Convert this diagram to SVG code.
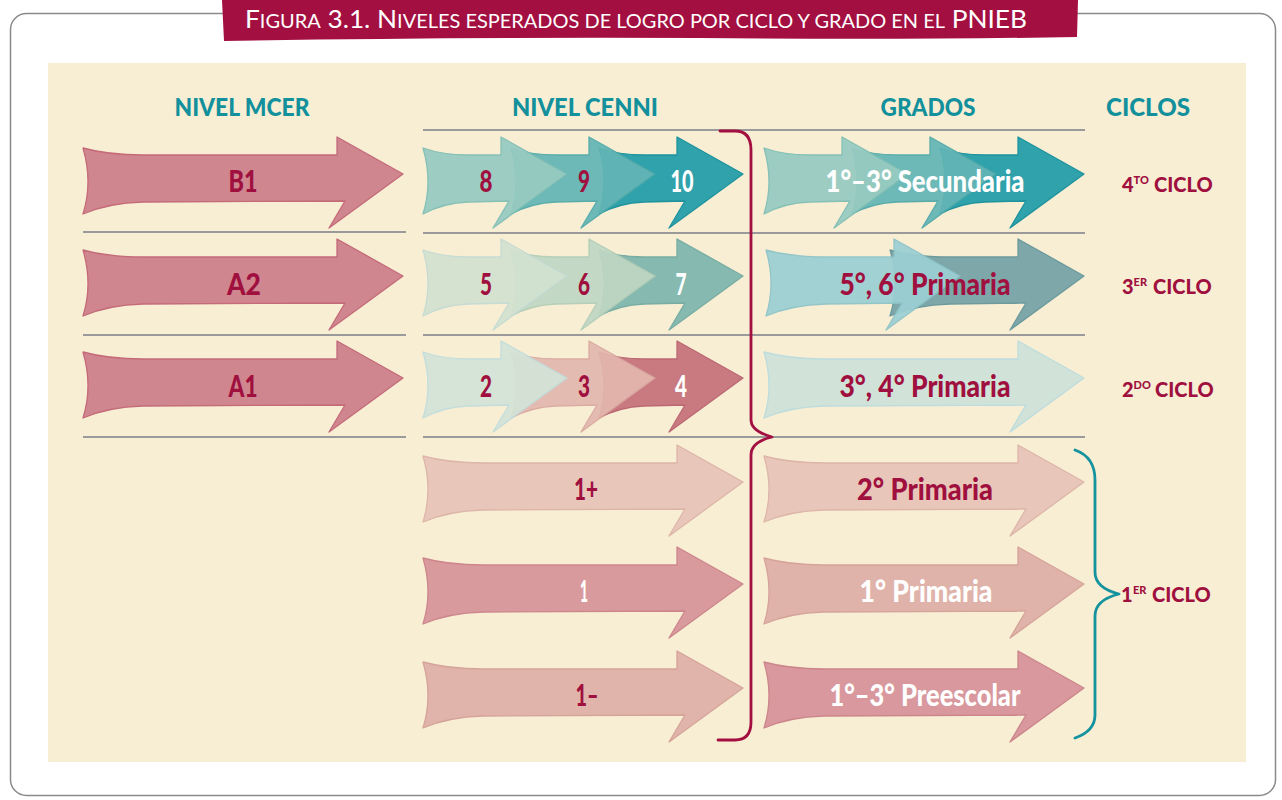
<svg xmlns="http://www.w3.org/2000/svg" width="1282" height="800" viewBox="0 0 1282 800">
<style>
.lbl{font-family:Lato,"Open Sans","Liberation Sans",sans-serif;font-weight:900;text-anchor:middle}
.big{font-size:30px}
.hdr{font-size:25px;fill:#12909C}
.cr{fill:#A0103F}
.wh{fill:#FFFFFF}
.cic{font-family:Lato,"Open Sans","Liberation Sans",sans-serif;font-weight:900;font-size:20px;fill:#A0103F}
.sup{font-size:11px}
.rule{stroke:#9A9A9A;stroke-width:2}
.arr{stroke-width:1.3;stroke-linejoin:round}
.brace{fill:none;stroke-width:2.8;stroke-linecap:round;stroke-linejoin:round}
</style>
<defs>
<path id="a320" d="M0,-34 Q25,-27 60,-27 L254,-27 L254,-45 L320,-8 L246,46 L262,19 L60,20 Q25,21 0,32 Q10,0 0,-34Z"/>
<path id="a144" d="M0,-34 Q20,-27 45,-27 L78,-27 L78,-45 L144,-8 L70,46 L86,19 L45,20 Q20,21 0,32 Q10,0 0,-34Z"/>
<path id="a194" d="M0,-34 Q25,-27 60,-27 L128,-27 L128,-45 L194,-8 L120,46 L136,19 L60,20 Q25,21 0,32 Q10,0 0,-34Z"/>
</defs>

<rect x="10.5" y="13.5" width="1265" height="782" rx="16" fill="#FFFFFF" stroke="#8A8A8A" stroke-width="1.5"/>
<g id="title">
<path d="M222,0 L1078,0 L1077,37 Q900,40 700,38 Q450,37 224,41 Z" fill="#A30F40"/>
<text x="245" y="28" textLength="782" lengthAdjust="spacingAndGlyphs" font-family="Lato, 'Open Sans', 'Liberation Sans', sans-serif" font-size="25" fill="#FFFFFF">F<tspan font-size="19">IGURA</tspan> 3.1. N<tspan font-size="19">IVELES ESPERADOS DE LOGRO POR CICLO Y GRADO EN EL</tspan> PNIEB</text>
</g>
<rect x="48" y="63" width="1198" height="699" fill="#F8EED4"/>

<g id="headers" class="lbl hdr">
<text x="242" y="116" textLength="135" lengthAdjust="spacingAndGlyphs">NIVEL MCER</text>
<text x="585" y="116" textLength="146" lengthAdjust="spacingAndGlyphs">NIVEL CENNI</text>
<text x="928" y="116" textLength="95" lengthAdjust="spacingAndGlyphs">GRADOS</text>
<text x="1148" y="116" textLength="84" lengthAdjust="spacingAndGlyphs">CICLOS</text>
</g>

<g id="rules" class="rule">
<line x1="423" y1="130" x2="1085" y2="130"/>
<line x1="83" y1="232" x2="406" y2="232"/>
<line x1="423" y1="233" x2="1085" y2="233"/>
<line x1="83" y1="335" x2="406" y2="335"/>
<line x1="423" y1="335" x2="1085" y2="335"/>
<line x1="83" y1="437" x2="406" y2="437"/>
<line x1="423" y1="437" x2="1085" y2="437"/>
</g>

<!-- NIVEL MCER -->
<g id="mcer-b1"><use href="#a320" x="83" y="182" fill="#D0868F" stroke="#C46A79" class="arr"/><text class="lbl big cr" x="243" y="192" textLength="29" lengthAdjust="spacingAndGlyphs">B1</text></g>
<g id="mcer-a2"><use href="#a320" x="83" y="284" fill="#D0868F" stroke="#C46A79" class="arr"/><text class="lbl big cr" x="244" y="295" textLength="34" lengthAdjust="spacingAndGlyphs">A2</text></g>
<g id="mcer-a1"><use href="#a320" x="83" y="386" fill="#D0868F" stroke="#C46A79" class="arr"/><text class="lbl big cr" x="243" y="397" textLength="29" lengthAdjust="spacingAndGlyphs">A1</text></g>

<!-- NIVEL CENNI row 1 -->
<g id="cenni-10"><use href="#a144" x="599" y="182" fill="#2FA2AC" stroke="#1E939D" class="arr"/><text class="lbl big wh" x="682" y="192" textLength="23" lengthAdjust="spacingAndGlyphs">10</text></g>
<g id="cenni-9"><use href="#a144" x="511" y="182" fill="#63B5B5" stroke="#4DA8A8" class="arr" opacity="0.93"/><text class="lbl big cr" x="584" y="192" textLength="12" lengthAdjust="spacingAndGlyphs">9</text></g>
<g id="cenni-8"><use href="#a144" x="423" y="182" fill="#97CBC1" stroke="#7DBDB4" class="arr" opacity="0.93"/><text class="lbl big cr" x="486" y="192" textLength="13" lengthAdjust="spacingAndGlyphs">8</text></g>
<!-- row 2 -->
<g id="cenni-7"><use href="#a144" x="599" y="284" fill="#86B9AF" stroke="#78ADA3" class="arr"/><text class="lbl big wh" x="681" y="295" textLength="11" lengthAdjust="spacingAndGlyphs">7</text></g>
<g id="cenni-6"><use href="#a144" x="511" y="284" fill="#C0D7C4" stroke="#B0CDB6" class="arr" opacity="0.93"/><text class="lbl big cr" x="584" y="295" textLength="12" lengthAdjust="spacingAndGlyphs">6</text></g>
<g id="cenni-5"><use href="#a144" x="423" y="284" fill="#D3E2D0" stroke="#C3DAD3" class="arr" opacity="0.93"/><text class="lbl big cr" x="486" y="295" textLength="12" lengthAdjust="spacingAndGlyphs">5</text></g>
<!-- row 3 -->
<g id="cenni-4"><use href="#a144" x="599" y="386" fill="#C97A81" stroke="#BC6873" class="arr"/><text class="lbl big wh" x="681" y="397" textLength="12" lengthAdjust="spacingAndGlyphs">4</text></g>
<g id="cenni-3"><use href="#a144" x="511" y="386" fill="#E3B7AE" stroke="#D9A79F" class="arr" opacity="0.92"/><text class="lbl big cr" x="584" y="397" textLength="12" lengthAdjust="spacingAndGlyphs">3</text></g>
<g id="cenni-2"><use href="#a144" x="423" y="386" fill="#D4E4D8" stroke="#BFDCDD" class="arr" opacity="0.92"/><text class="lbl big cr" x="486" y="397" textLength="12" lengthAdjust="spacingAndGlyphs">2</text></g>
<!-- lower rows -->
<g id="cenni-1plus"><use href="#a320" x="423" y="490" fill="#E8C7BA" stroke="#DDB5A9" class="arr"/><text class="lbl big cr" x="586" y="500" textLength="24" lengthAdjust="spacingAndGlyphs">1+</text></g>
<g id="cenni-1"><use href="#a320" x="423" y="592" fill="#D99A9D" stroke="#CD868C" class="arr"/><text class="lbl big wh" x="584" y="602" textLength="8" lengthAdjust="spacingAndGlyphs">1</text></g>
<g id="cenni-1minus"><use href="#a320" x="423" y="696" fill="#E0B4AA" stroke="#D5A39A" class="arr"/><text class="lbl big cr" x="587" y="706" textLength="23" lengthAdjust="spacingAndGlyphs">1–</text></g>

<!-- GRADOS -->
<g id="grado-secundaria">
<use href="#a144" x="940" y="182" fill="#2FA2AC" stroke="#1E939D" class="arr"/>
<use href="#a144" x="852" y="182" fill="#63B5B5" stroke="#4DA8A8" class="arr" opacity="0.93"/>
<use href="#a144" x="764" y="182" fill="#97CBC1" stroke="#7DBDB4" class="arr" opacity="0.93"/>
<text class="lbl big wh" x="925" y="192" textLength="199" lengthAdjust="spacingAndGlyphs">1°–3° Secundaria</text>
</g>
<g id="grado-5-6-primaria">
<use href="#a194" x="890" y="284" fill="#7DA7A9" stroke="#6C9A9D" class="arr"/>
<use href="#a194" x="766" y="284" fill="#9CCFD3" stroke="#8CC3C8" class="arr" opacity="0.93"/>
<text class="lbl big cr" x="925" y="295" textLength="171" lengthAdjust="spacingAndGlyphs">5°, 6° Primaria</text>
</g>
<g id="grado-3-4-primaria"><use href="#a320" x="764" y="386" fill="#D1E3D8" stroke="#BCDCDE" class="arr"/><text class="lbl big cr" x="925" y="397" textLength="171" lengthAdjust="spacingAndGlyphs">3°, 4° Primaria</text></g>
<g id="grado-2-primaria"><use href="#a320" x="764" y="490" fill="#E8C7BA" stroke="#DDB5A9" class="arr"/><text class="lbl big cr" x="925" y="500" textLength="136" lengthAdjust="spacingAndGlyphs">2° Primaria</text></g>
<g id="grado-1-primaria"><use href="#a320" x="764" y="592" fill="#E0B3AA" stroke="#D5A39A" class="arr"/><text class="lbl big wh" x="926" y="602" textLength="133" lengthAdjust="spacingAndGlyphs">1° Primaria</text></g>
<g id="grado-preescolar"><use href="#a320" x="764" y="696" fill="#D8989D" stroke="#CC858B" class="arr"/><text class="lbl big wh" x="925" y="706" textLength="191" lengthAdjust="spacingAndGlyphs">1°–3° Preescolar</text></g>

<!-- CICLOS -->
<g id="ciclo-4"><text class="cic" x="1122" y="192">4<tspan class="sup" dy="-8">TO</tspan><tspan x="1154" dy="8">CICLO</tspan></text></g>
<g id="ciclo-3"><text class="cic" x="1122" y="294">3<tspan class="sup" dy="-8">ER</tspan><tspan x="1153" dy="8">CICLO</tspan></text></g>
<g id="ciclo-2"><text class="cic" x="1122" y="397">2<tspan class="sup" dy="-8">DO</tspan><tspan x="1155" dy="8">CICLO</tspan></text></g>
<g id="ciclo-1"><text class="cic" x="1121" y="602">1<tspan class="sup" x="1133" dy="-8">ER</tspan><tspan x="1152" dy="8">CICLO</tspan></text></g>

<g id="connectors">
<path class="brace" stroke="#A30F40" d="M720,131 L735,131 Q751,131 751,150 L751,420 Q751,431 772,437 Q751,442 751,455 L751,722 Q751,740 735,740 L718,740"/>
<path class="brace" stroke="#14939F" stroke-width="2.4" d="M1075,450 Q1095,457 1095,480 L1095,572 Q1095,588 1119,594 Q1095,600 1095,616 L1095,715 Q1095,731 1075,738"/>
</g>
</svg>
